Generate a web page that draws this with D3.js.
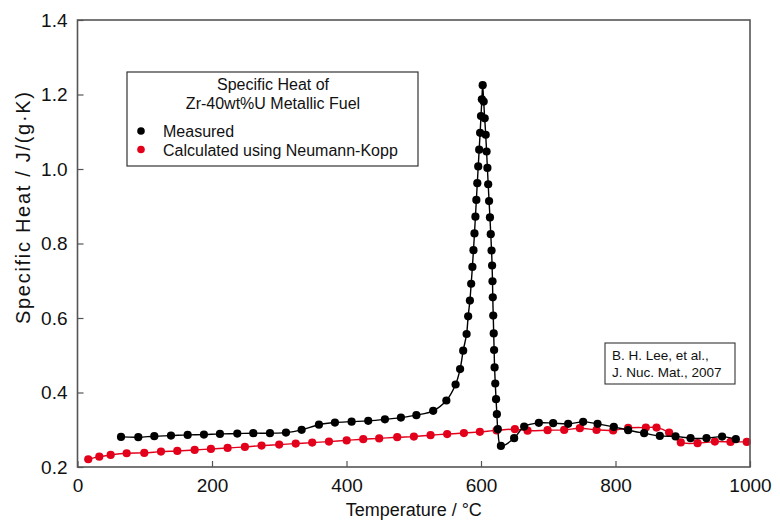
<!DOCTYPE html>
<html><head><meta charset="utf-8">
<script src="https://cdn.jsdelivr.net/npm/d3@7"></script>
<style>
html,body{margin:0;padding:0;background:#fff;}
svg{display:block;font-family:"Liberation Sans",Arial,sans-serif;}
</style></head>
<body><svg id="c" width="780" height="521"></svg>
<script>
// ---- data ----
const measuredT = [64.7, 90.4, 114.2, 139, 163.8, 188, 211.8, 237.6, 261.4, 286.2, 310, 333.3, 359, 382.8, 407.6, 432.3, 457.1, 480.9, 503.9, 528.9, 548.5, 562.2, 568.9, 573.5, 578.6, 580.9, 583.5,
  585.4, 587.2, 588.8, 590.3, 591.7, 593.1, 594.5, 595.9, 597.3, 598.7, 600, 601.3, 602.5,
  604, 605.5, 607, 608.3, 609.5, 610.7, 612, 613.3, 614.5,
  615.7, 616.5, 617.1, 617.5, 618.2, 618.9, 619.5, 620.2, 621.2, 622.4, 623.6, 625, 629.6,
  649.3, 664.2, 686, 707.3, 729.6, 751.9, 773.3, 797.5, 818.8, 842.6, 865.9, 889.3, 911.6, 935.3, 958.5, 978.9];
const measuredCp = [0.2808, 0.2800, 0.2827, 0.2843, 0.2862, 0.2870, 0.2889, 0.2897, 0.2908, 0.2908, 0.2924, 0.2997, 0.3135, 0.3193, 0.3217, 0.3239, 0.3279, 0.3327, 0.3392, 0.3508, 0.3785, 0.4215, 0.4629, 0.5122, 0.5571, 0.6045, 0.6467,
  0.692, 0.737, 0.782, 0.827, 0.872, 0.917, 0.962, 1.007, 1.052, 1.097, 1.142, 1.187, 1.225,
  1.181, 1.136, 1.092, 1.047, 1.003, 0.959, 0.914, 0.870, 0.825,
  0.7812, 0.7409, 0.6986, 0.6556, 0.6064, 0.5587, 0.5141, 0.4673, 0.4242, 0.3822, 0.3419, 0.3015, 0.2566,
  0.2773, 0.3085, 0.3185, 0.3177, 0.3158, 0.3212, 0.3158, 0.3077, 0.2988, 0.2908, 0.2835, 0.2822, 0.2773, 0.2773, 0.2816, 0.2746];
const calcT = [16, 32.4, 49.3, 73.1, 99.3, 124.1, 148.4, 174.2, 198.4, 223.2, 248.9, 273.7, 299.9, 324.5,
  349, 373.9, 400.2, 424.9, 448.6, 475.4, 500.2, 525, 549.7, 574.6, 598.3,
  623.2, 650.4, 669.2, 699, 723.7, 747, 771.8, 796.5, 818.8, 845.1, 861, 879.7, 897.1, 922, 947.7, 971, 995.2];
const calcCp = [0.2208, 0.2278, 0.2324, 0.2369, 0.2378, 0.2413, 0.2431, 0.2458, 0.2485, 0.2512, 0.2539, 0.2574, 0.2601, 0.2628,
  0.2655, 0.2682, 0.2714, 0.2746, 0.2768, 0.2800, 0.2816, 0.2854, 0.2884, 0.2911, 0.2943,
  0.2983, 0.3015, 0.2975, 0.2988, 0.2996, 0.3042, 0.2996, 0.2983, 0.3050, 0.3058, 0.3058, 0.2924, 0.2660, 0.2639, 0.2682, 0.2674, 0.2674];
const xTicks = [0, 200, 400, 600, 800, 1000];
const yTicks = [0.2, 0.4, 0.6, 0.8, 1.0, 1.2, 1.4];
const legendTitle = ["Specific Heat of", "Zr-40wt%U Metallic Fuel"];
const seriesNames = ["Measured", "Calculated using Neumann-Kopp"];
const seriesColors = ["#000000", "#e3001b"];
const citation = ["B. H. Lee, et al.,", "J. Nuc. Mat., 2007"];

// ---- chart ----
const svg = d3.select("#c");
const L = 77.5, R = 750, T = 20, B = 467;
const x = d3.scaleLinear().domain([0, 1000]).range([L, R]);
const y = d3.scaleLinear().domain([0.2, 1.4]).range([B, T]);
const axisColor = "#555";

// series
const series = [
  {name: seriesNames[1], color: seriesColors[1], pts: calcT.map((t, i) => [t, calcCp[i]])},
  {name: seriesNames[0], color: seriesColors[0], pts: measuredT.map((t, i) => [t, measuredCp[i]])}
];
const line = d3.line().x(d => x(d[0])).y(d => y(d[1])).curve(d3.curveCatmullRom.alpha(0.5));
series.forEach(s => {
  svg.append("path").datum(s.pts).attr("d", line)
    .attr("fill", "none").attr("stroke", s.color).attr("stroke-width", 1.4);
  svg.append("g").selectAll("circle").data(s.pts).join("circle")
    .attr("cx", d => x(d[0])).attr("cy", d => y(d[1])).attr("r", 4.1)
    .attr("fill", s.color);
});

// frame
svg.append("rect").attr("x", L).attr("y", T).attr("width", R - L).attr("height", B - T)
  .attr("fill", "none").attr("stroke", axisColor).attr("stroke-width", 1.6);

// axes (ticks inward)
const xa = svg.append("g").attr("transform", `translate(0,${B})`)
  .call(d3.axisBottom(x).tickValues(xTicks).tickSizeInner(-6).tickSizeOuter(0).tickPadding(12).tickFormat(d3.format("d")));
const ya = svg.append("g").attr("transform", `translate(${L},0)`)
  .call(d3.axisLeft(y).tickValues(yTicks).tickSizeInner(-6).tickSizeOuter(0).tickPadding(10).tickFormat(d3.format(".1f")));
[xa, ya].forEach(a => {
  a.select(".domain").remove();
  a.selectAll("line").attr("stroke", axisColor).attr("stroke-width", 1.2);
  a.selectAll("text").attr("font-size", 19).attr("fill", "#111")
    .attr("font-family", "'Liberation Sans', Arial, sans-serif");
});

// axis titles
svg.append("text").attr("x", (L + R) / 2).attr("y", 516).attr("text-anchor", "middle")
  .attr("font-size", 18).attr("fill", "#111").text("Temperature / °C");
svg.append("text").attr("transform", `translate(30,208) rotate(-90)`)
  .attr("text-anchor", "middle").attr("font-size", 20).attr("fill", "#111")
  .attr("textLength", 232).attr("lengthAdjust", "spacing")
  .text("Specific Heat / J/(g·K)");

// legend
const lg = svg.append("g");
lg.append("rect").attr("x", 127).attr("y", 72).attr("width", 291).attr("height", 94)
  .attr("fill", "#fff").attr("stroke", "#333").attr("stroke-width", 1.2);
legendTitle.forEach((t, i) => lg.append("text").attr("x", 273).attr("y", 90 + i * 18.5)
  .attr("text-anchor", "middle").attr("font-size", 16).attr("fill", "#111").text(t));
seriesNames.forEach((n, i) => {
  lg.append("circle").attr("cx", 141).attr("cy", 131 + i * 18.5).attr("r", 3.8).attr("fill", seriesColors[i]);
  lg.append("text").attr("x", 163).attr("y", 137 + i * 18.5).attr("font-size", 16).attr("fill", "#111").text(n);
});

// citation box
const cg = svg.append("g");
cg.append("rect").attr("x", 605).attr("y", 343).attr("width", 130).attr("height", 41)
  .attr("fill", "#fff").attr("stroke", "#333").attr("stroke-width", 1.1);
citation.forEach((t, i) => cg.append("text").attr("x", 612).attr("y", 360 + i * 17)
  .attr("font-size", 13.5).attr("fill", "#111").text(t));
</script></body></html>
